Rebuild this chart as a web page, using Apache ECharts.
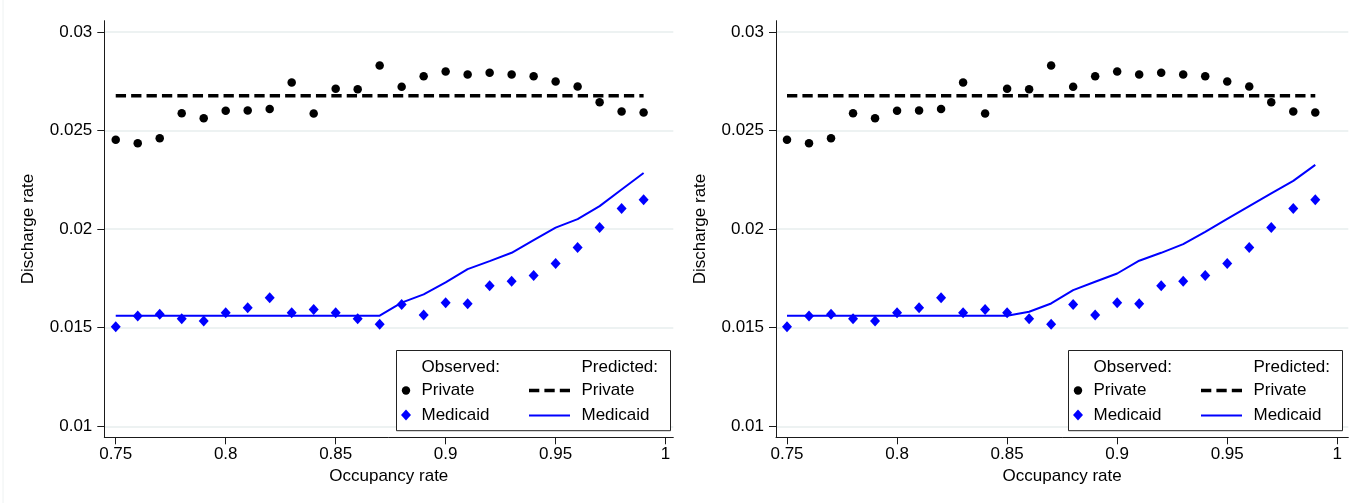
<!DOCTYPE html>
<html>
<head>
<meta charset="utf-8">
<script src="https://cdn.jsdelivr.net/npm/echarts@6/dist/echarts.min.js"></script>
<style>
  html, body { margin: 0; padding: 0; background: #fff; }
  #chart { width: 1362px; height: 503px; }
</style>
</head>
<body>
<div id="chart"></div>
<script>
// ---------- data ----------
const occupancy = [0.75, 0.76, 0.77, 0.78, 0.79, 0.80, 0.81, 0.82, 0.83, 0.84, 0.85, 0.86, 0.87,
                   0.88, 0.89, 0.90, 0.91, 0.92, 0.93, 0.94, 0.95, 0.96, 0.97, 0.98, 0.99];

const observedPrivate = [0.02453, 0.02436, 0.02461, 0.02588, 0.02563, 0.02600, 0.02602, 0.02610, 0.02744,
                         0.02586, 0.02712, 0.02710, 0.02830, 0.02722, 0.02775, 0.02800, 0.02785, 0.02793,
                         0.02785, 0.02776, 0.02749, 0.02724, 0.02644, 0.02597, 0.02592];

const observedMedicaid = [0.01505, 0.01559, 0.01568, 0.01546, 0.01534, 0.01576, 0.01601, 0.01652, 0.01576,
                          0.01593, 0.01576, 0.01546, 0.01517, 0.01618, 0.01564, 0.01627, 0.01622, 0.01713,
                          0.01736, 0.01765, 0.01826, 0.01907, 0.02008, 0.02105, 0.02149];

const predictedPrivate = [0.02677, 0.02677, 0.02677, 0.02677, 0.02677, 0.02677, 0.02677, 0.02677, 0.02677,
                          0.02677, 0.02677, 0.02677, 0.02677, 0.02677, 0.02677, 0.02677, 0.02677, 0.02677,
                          0.02677, 0.02677, 0.02677, 0.02677, 0.02677, 0.02677, 0.02677];

const predictedMedicaidLeft = [0.01561, 0.01561, 0.01561, 0.01561, 0.01561, 0.01561, 0.01561, 0.01561, 0.01561,
                               0.01561, 0.01561, 0.01561, 0.01561, 0.01627, 0.01669, 0.01730, 0.01797, 0.01838,
                               0.01880, 0.01944, 0.02008, 0.02051, 0.02117, 0.02201, 0.02285];

const predictedMedicaidRight = [0.01561, 0.01561, 0.01561, 0.01561, 0.01561, 0.01561, 0.01561, 0.01561, 0.01561,
                                0.01561, 0.01561, 0.01581, 0.01623, 0.01691, 0.01733, 0.01775, 0.01840, 0.01880,
                                0.01924, 0.01986, 0.02052, 0.02117, 0.02181, 0.02245, 0.02326];

const xTicks = [0.75, 0.8, 0.85, 0.9, 0.95, 1];
const yTicks = [0.01, 0.015, 0.02, 0.025, 0.03];

const xTitle = 'Occupancy rate';
const yTitle = 'Discharge rate';
const legendHeaders = ['Observed:', 'Predicted:'];
const legendNames = ['Private', 'Medicaid'];

// ---------- styling / layout ----------
const FONT = "'Liberation Sans', Arial, 'DejaVu Sans', sans-serif";
const FS = 17;
const AXIS_COLOR = '#1a1a1a';
const GRID_COLOR = '#e7eeee';
const BLUE = '#0000ff';

const panels = [
  { left: 104.3, top: 20.7, width: 569, height: 416.6, xmin: 0.7448, xmax: 1.0035, pred: predictedMedicaidLeft, legendX: 396.5 },
  { left: 776,   top: 20.7, width: 572.3, height: 416.6, xmin: 0.745, xmax: 1.005, pred: predictedMedicaidRight, legendX: 1068.5 }
];
const YMIN = 0.009442, YMAX = 0.030573;

function pairs(ys) { return occupancy.map((x, i) => [x, ys[i]]); }
function fmt(v) { return String(+(+v).toFixed(4)); }

const grids = [], xAxes = [], yAxes = [], series = [], graphics = [];

panels.forEach((p, k) => {
  grids.push({ left: p.left, top: p.top, width: p.width, height: p.height, containLabel: false });
  xAxes.push({
    type: 'value', gridIndex: k, min: p.xmin, max: p.xmax,
    name: xTitle, nameLocation: 'middle', nameGap: 28,
    nameTextStyle: { fontFamily: FONT, fontSize: FS, color: '#000' },
    axisLine: { show: true, onZero: false, lineStyle: { color: AXIS_COLOR, width: 1 } },
    axisTick: { show: true, length: 7, customValues: xTicks, lineStyle: { color: AXIS_COLOR } },
    axisLabel: { customValues: xTicks, margin: 9, fontFamily: FONT, fontSize: FS, color: '#000', formatter: fmt },
    splitLine: { show: false }
  });
  yAxes.push({
    type: 'value', gridIndex: k, min: YMIN, max: YMAX,
    name: yTitle, nameLocation: 'middle', nameGap: 67,
    nameTextStyle: { fontFamily: FONT, fontSize: FS, color: '#000' },
    axisLine: { show: true, onZero: false, lineStyle: { color: AXIS_COLOR, width: 1 } },
    axisTick: { show: true, length: 7, customValues: yTicks, lineStyle: { color: AXIS_COLOR } },
    axisLabel: { customValues: yTicks, margin: 12, fontFamily: FONT, fontSize: FS, color: '#000', formatter: fmt },
    splitLine: { show: true, lineStyle: { color: GRID_COLOR, width: 1.5 } }
  });

  series.push({
    type: 'line', xAxisIndex: k, yAxisIndex: k, data: pairs(predictedPrivate),
    showSymbol: false, symbol: 'none', silent: true, z: 2,
    lineStyle: { color: '#000', width: 3.5, type: [10.3, 5.1], cap: 'butt', opacity: 1 }
  });
  series.push({
    type: 'line', xAxisIndex: k, yAxisIndex: k, data: pairs(p.pred),
    showSymbol: false, symbol: 'none', silent: true, z: 2,
    lineStyle: { color: BLUE, width: 2, opacity: 1 }
  });
  series.push({
    type: 'scatter', xAxisIndex: k, yAxisIndex: k, data: pairs(observedPrivate),
    symbol: 'circle', symbolSize: 8.5, z: 3,
    itemStyle: { color: '#000', opacity: 1 }
  });
  series.push({
    type: 'scatter', xAxisIndex: k, yAxisIndex: k, data: pairs(observedMedicaid),
    symbol: 'diamond', symbolSize: [10, 11], z: 3,
    itemStyle: { color: BLUE, opacity: 1 }
  });

  // legend box (drawn as graphics)
  const bx = p.legendX, by = 350.5, bw = 274, bh = 80.2;
  const rowH = 367.5, row1 = 390.5, row2 = 415;
  const txt = (x, y, s) => ({ type: 'text', x: x, y: y, z: 101,
    style: { text: s, fontFamily: FONT, fontSize: FS, fill: '#000', verticalAlign: 'middle', align: 'left' } });
  graphics.push({ type: 'rect', shape: { x: bx, y: by, width: bw, height: bh }, z: 100,
    style: { fill: '#fff', stroke: '#222', lineWidth: 1 } });
  graphics.push(txt(bx + 25, rowH, legendHeaders[0]));
  graphics.push(txt(bx + 185, rowH, legendHeaders[1]));
  graphics.push({ type: 'circle', shape: { cx: bx + 9.5, cy: row1, r: 4.2 }, z: 101, style: { fill: '#000' } });
  graphics.push(txt(bx + 25, row1, legendNames[0]));
  graphics.push({ type: 'polygon', z: 101,
    shape: { points: [[bx + 9.5, row2 - 5.5], [bx + 14.5, row2], [bx + 9.5, row2 + 5.5], [bx + 4.5, row2]] },
    style: { fill: BLUE } });
  graphics.push(txt(bx + 25, row2, legendNames[1]));
  graphics.push({ type: 'line', z: 101, shape: { x1: bx + 132.5, y1: row1, x2: bx + 173.5, y2: row1 },
    style: { stroke: '#000', lineWidth: 3.5, lineDash: [10.3, 5.1] } });
  graphics.push(txt(bx + 185, row1, legendNames[0]));
  graphics.push({ type: 'line', z: 101, shape: { x1: bx + 132.5, y1: row2 + 0.5, x2: bx + 173.5, y2: row2 + 0.5 },
    style: { stroke: BLUE, lineWidth: 2 } });
  graphics.push(txt(bx + 185, row2, legendNames[1]));
});

// faint outer frame line at the far left
graphics.push({ type: 'line', shape: { x1: 3, y1: 0, x2: 3, y2: 503 }, z: 0,
  style: { stroke: '#eef2f2', lineWidth: 1 } });

const chart = echarts.init(document.getElementById('chart'), null, { renderer: 'canvas' });
chart.setOption({
  animation: false,
  backgroundColor: '#fff',
  grid: grids,
  xAxis: xAxes,
  yAxis: yAxes,
  series: series,
  graphic: graphics
});
</script>
</body>
</html>
